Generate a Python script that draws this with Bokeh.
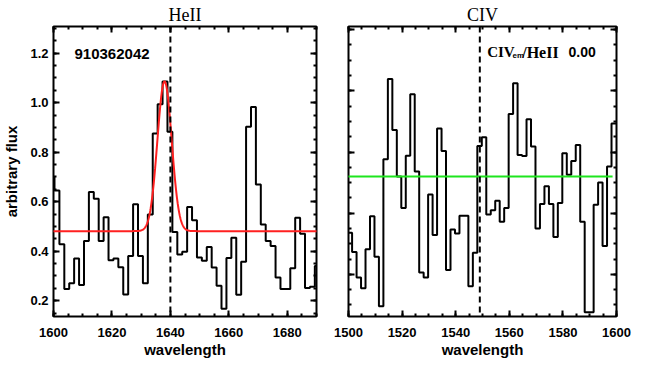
import numpy as np
from bokeh.plotting import figure
from bokeh.layouts import row
from bokeh.models import (FixedTicker, LinearAxis, Label, Span, Range1d,
                          CustomJSTickFormatter, PrintfTickFormatter)
from bokeh.embed import file_html
from bokeh.resources import INLINE

# ---------------- data: HeII panel ----------------
heii_bin_start = [1598.66, 1600.34, 1602.02, 1603.70, 1605.38, 1607.06, 1608.75, 1610.43,
                  1612.11, 1613.79, 1615.47, 1617.15, 1618.83, 1620.51, 1622.19, 1623.87,
                  1625.56, 1627.24, 1628.92, 1630.60, 1632.28, 1633.96, 1635.64, 1637.32,
                  1639.00, 1640.68, 1642.37, 1644.05, 1645.73, 1647.41, 1649.09, 1650.77,
                  1652.45, 1654.13, 1655.81, 1657.49, 1659.18, 1660.86, 1662.54, 1664.22,
                  1665.90, 1667.58, 1669.26, 1670.94, 1672.62, 1674.30, 1675.99, 1677.67,
                  1679.35, 1681.03, 1682.71, 1684.39, 1686.07, 1687.75, 1689.43]
heii_bin_end = 1691.11
heii_flux = [0.700, 0.645, 0.428, 0.247, 0.270, 0.370, 0.263, 0.441, 0.639, 0.612,
             0.441, 0.537, 0.363, 0.370, 0.335, 0.225, 0.380, 0.590, 0.380, 0.270,
             0.548, 0.876, 0.994, 1.086, 0.883, 0.478, 0.387, 0.398, 0.579, 0.525,
             0.374, 0.361, 0.417, 0.334, 0.260, 0.167, 0.372, 0.454, 0.224, 0.357,
             0.903, 0.983, 0.669, 0.508, 0.441, 0.421, 0.294, 0.247, 0.247, 0.331,
             0.535, 0.470, 0.251, 0.256, 0.340]
heii_fit_center = 1638.0
heii_fit_sigma = 2.45
heii_fit_amp = 0.605
heii_fit_cont = 0.481
heii_line = 1640.0
heii_xticks = [1600, 1620, 1640, 1660, 1680]
heii_yticks = [0.2, 0.4, 0.6, 0.8, 1.0, 1.2]

# ---------------- data: CIV panel ----------------
civ_bin_start = [1499.67, 1501.34, 1503.01, 1504.68, 1506.35, 1508.02, 1509.69, 1511.35,
                 1513.02, 1514.69, 1516.36, 1518.03, 1519.70, 1521.37, 1523.04, 1524.71,
                 1526.38, 1528.04, 1529.71, 1531.38, 1533.05, 1534.72, 1536.39, 1538.06,
                 1539.73, 1541.40, 1543.07, 1544.73, 1546.40, 1548.07, 1549.74, 1551.41,
                 1553.08, 1554.75, 1556.42, 1558.09, 1559.76, 1561.42, 1563.09, 1564.76,
                 1566.43, 1568.10, 1569.77, 1571.44, 1573.11, 1574.78, 1576.45, 1578.11,
                 1579.78, 1581.45, 1583.12, 1584.79, 1586.46, 1588.13, 1589.80, 1591.47,
                 1593.14, 1594.80, 1596.47, 1598.14]
civ_bin_end = 1600.6
civ_flux = [0.336, 0.273, 0.190, 0.155, 0.282, 0.390, 0.258, 0.096, 0.576, 0.839,
            0.672, 0.520, 0.417, 0.588, 0.789, 0.536, 0.206, 0.190, 0.461, 0.329,
            0.677, 0.603, 0.214, 0.347, 0.334, 0.392, 0.392, 0.161, 0.271, 0.620,
            0.648, 0.396, 0.410, 0.441, 0.372, 0.417, 0.724, 0.825, 0.590, 0.587,
            0.707, 0.618, 0.350, 0.430, 0.488, 0.430, 0.322, 0.433, 0.596, 0.526,
            0.571, 0.623, 0.372, 0.076, 0.076, 0.428, 0.500, 0.293, 0.553, 0.693]
civ_cont = 0.52
civ_line = 1549.0
civ_xticks = [1500, 1520, 1540, 1560, 1580, 1600]
civ_yticks = [0.2, 0.4, 0.6, 0.8, 1.0]

object_id = "910362042"
ratio_value = "0.00"

SANS = "Liberation Sans"
SERIF = "Liberation Serif"


def minor_list(lo, hi, step):
    return list(np.arange(lo, hi + step / 2, step))


def style_axis(ax, ticks, minor, labels=True):
    ax.ticker = FixedTicker(ticks=ticks, minor_ticks=minor)
    ax.axis_line_color = None
    ax.major_tick_in = 6
    ax.major_tick_out = 0
    ax.minor_tick_in = 3
    ax.minor_tick_out = 0
    ax.major_tick_line_width = 2
    ax.minor_tick_line_width = 2
    ax.major_tick_line_color = "black"
    ax.minor_tick_line_color = "black"
    if labels:
        ax.major_label_text_font = SANS
        ax.major_label_text_font_style = "bold"
        ax.major_label_text_font_size = "13px"
        ax.major_label_text_color = "black"
    else:
        ax.formatter = CustomJSTickFormatter(code="return ''")
        ax.major_label_text_font_size = "0px"
        ax.major_label_standoff = 0


def make_panel(title, xr, yr, bl, br, xt, xminor, yt, yminor, ylabels):
    p = figure(width=332, height=360, x_range=Range1d(*xr), y_range=Range1d(*yr),
               output_backend="svg", toolbar_location=None,
               min_border_left=bl, min_border_right=br, min_border_top=24, min_border_bottom=44)
    p.grid.visible = False
    p.outline_line_color = "black"
    p.outline_line_width = 2
    p.background_fill_color = "white"
    p.border_fill_color = "white"
    p.title.text = title
    p.title.align = "center"
    p.title.text_font = SERIF
    p.title.text_font_size = "18px"
    p.title.text_font_style = "normal"
    p.title.text_color = "black"
    p.title.standoff = 4
    xa = p.xaxis[0]
    style_axis(xa, xt, xminor, True)
    xa.major_label_standoff = 11
    xa.axis_label = "wavelength"
    xa.axis_label_text_font = SANS
    xa.axis_label_text_font_style = "bold"
    xa.axis_label_text_font_size = "15px"
    xa.axis_label_text_color = "black"
    xa.axis_label_standoff = 1
    style_axis(p.yaxis[0], yt, yminor, ylabels)
    if ylabels:
        ya = p.yaxis[0]
        ya.major_label_standoff = 5
        ya.formatter = PrintfTickFormatter(format="%.1f")
        ya.axis_label = "arbitrary flux"
        ya.axis_label_text_font = SANS
        ya.axis_label_text_font_style = "bold"
        ya.axis_label_text_font_size = "15px"
        ya.axis_label_text_color = "black"
        ya.axis_label_standoff = 7
    top = LinearAxis()
    style_axis(top, xt, xminor, False)
    p.add_layout(top, "above")
    right = LinearAxis()
    style_axis(right, yt, yminor, False)
    p.add_layout(right, "right")
    return p


def add_text(p, x, y, text, font, size, style="bold", align="left"):
    p.add_layout(Label(x=x, y=y, x_units="screen", y_units="screen", text=text,
                       text_font=font, text_font_size=size, text_font_style=style,
                       text_color="black", text_align=align, text_baseline="alphabetic"))


# ---------------- left panel (HeII) ----------------
p1 = make_panel("HeII", (1600, 1690), (0.136, 1.308), 49, 16,
                heii_xticks, minor_list(1600, 1690, 5),
                heii_yticks, minor_list(0.15, 1.30, 0.05), True)
p1.step(x=heii_bin_start + [heii_bin_end], y=heii_flux + [heii_flux[-1]],
        mode="after", line_color="black", line_width=2)
fit_x = np.linspace(heii_bin_start[0], heii_bin_end, 800)
fit_y = heii_fit_cont + heii_fit_amp * np.exp(-0.5 * ((fit_x - heii_fit_center) / heii_fit_sigma) ** 2)
p1.line(fit_x, fit_y, line_color="#ff2020", line_width=2)
p1.add_layout(Span(location=heii_line, dimension="height", line_color="black",
                   line_width=2, line_dash="6 4"))
add_text(p1, 21, 262.7, object_id, SANS, "15px")

# ---------------- right panel (CIV) ----------------
p2 = make_panel("CIV", (1500, 1600), (0.0623, 1.0104), 16, 48,
                civ_xticks, minor_list(1500, 1600, 5),
                civ_yticks, minor_list(0.1, 1.0, 0.05), False)
p2.step(x=civ_bin_start + [civ_bin_end], y=civ_flux + [civ_flux[-1]],
        mode="after", line_color="black", line_width=2)
p2.line([civ_bin_start[0], civ_bin_start[-1] + 0.4], [civ_cont, civ_cont],
        line_color="#1ee61e", line_width=2)
p2.add_layout(Span(location=civ_line, dimension="height", line_color="black",
                   line_width=2, line_dash="6 4"))
add_text(p2, 138.7, 264.3, "CIV", SERIF, "15px")
add_text(p2, 164.0, 261.0, "em", SANS, "8px")
add_text(p2, 173.7, 264.3, "/HeII", SERIF, "16px")
add_text(p2, 220.0, 264.3, ratio_value, SANS, "14px")

layout = row(p1, p2)
open("out.html", "w").write(file_html(layout, INLINE))
